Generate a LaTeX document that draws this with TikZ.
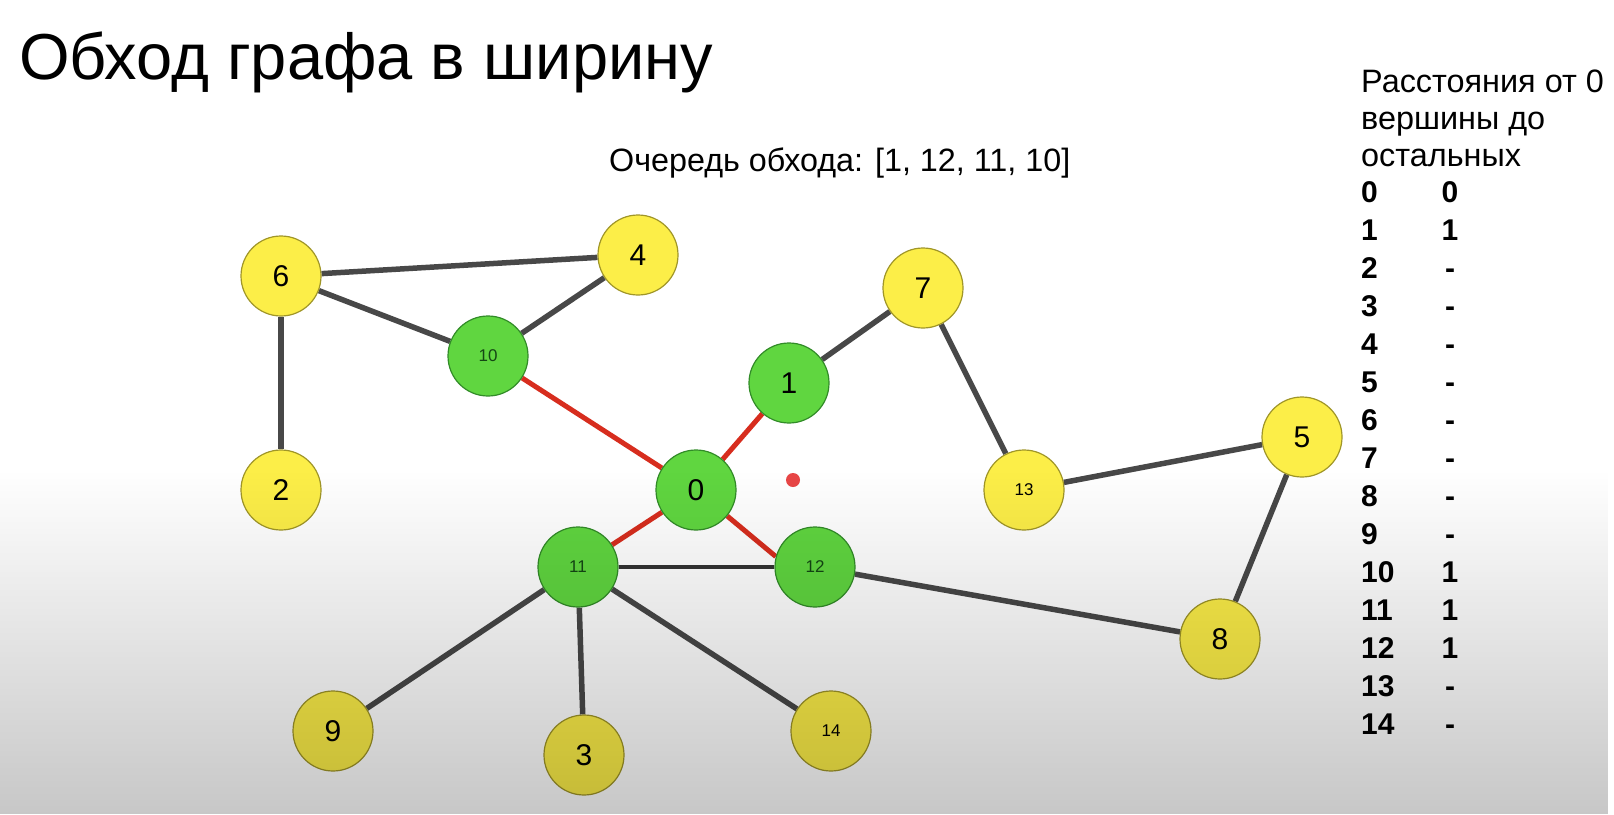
\documentclass[tikz,border=0pt]{standalone}
\usepackage{fontspec}
\setmainfont{Liberation Sans}
\usetikzlibrary{fadings}
\pgfdeclarelayer{back}
\pgfdeclarelayer{edges}
\pgfsetlayers{back,edges,main}
\definecolor{ynode}{RGB}{252,238,72}
\definecolor{yline}{RGB}{160,150,40}
\definecolor{gnode}{RGB}{96,214,64}
\definecolor{gline}{RGB}{50,140,40}
\definecolor{gtext}{RGB}{20,70,20}
\definecolor{edgegray}{RGB}{72,72,72}
\definecolor{edgered}{RGB}{215,45,30}
\definecolor{dotred}{RGB}{232,70,70}
\begin{document}
\begin{tikzpicture}[x=1pt,y=-1pt,
  vtx/.style={circle, minimum size=80pt, inner sep=0pt, line width=1.2pt},
  ynd/.style={vtx, fill=ynode, draw=yline},
  gnd/.style={vtx, fill=gnode, draw=gline},
  big/.style={font=\fontsize{30}{30}\selectfont},
  small/.style={font=\fontsize{17}{17}\selectfont},
  gedge/.style={draw=edgegray, line width=5.5pt},
  redge/.style={draw=edgered, line width=5pt},
  tbl/.style={font=\fontsize{30}{30}\selectfont\bfseries, inner sep=0pt},
  hdr/.style={font=\fontsize{32.4}{32.4}\selectfont, inner sep=0pt, anchor=base west}]
\begin{pgfonlayer}{back}
\fill[white] (0,0) rectangle (1614,814);
\end{pgfonlayer}
\useasboundingbox (0,0) rectangle (1614,814);

\node[anchor=base west, inner sep=0pt, font=\fontsize{65}{65}\selectfont] (title) at (19,79) {Обход графа в ширину};
\node[anchor=base west, inner sep=0pt, font=\fontsize{32.3}{32.3}\selectfont] (queue) at (609,171) {Очередь обхода: [1, 12, 11, 10]};

\node[hdr] (h1) at (1361,92) {Расстояния от 0};
\node[hdr] (h2) at (1361,129) {вершины до};
\node[hdr] (h3) at (1361,166) {остальных};
\foreach \i/\v [count=\k from 0] in {0/0,1/1,2/-,3/-,4/-,5/-,6/-,7/-,8/-,9/-,10/1,11/1,12/1,13/-,14/-}{
  \node[tbl, anchor=base west] (ra\i) at (1361,{202+38*\k}) {\i};
  \node[tbl, anchor=base] (rb\i) at (1450,{202+38*\k}) {\v};
}

% nodes
\node[ynd, big] (n6) at (281,276) {6};
\node[ynd, big] (n4) at (638,255) {4};
\node[gnd, small, text=gtext] (n10) at (488,356) {10};
\node[ynd, big] (n2) at (281,490) {2};
\node[gnd, big] (n1) at (789,383) {1};
\node[ynd, big] (n7) at (923,288) {7};
\node[gnd, big] (n0) at (696,490) {0};
\node[ynd, small] (n13) at (1024,490) {13};
\node[ynd, big] (n5) at (1302,437) {5};
\node[gnd, small, text=gtext] (n11) at (578,567) {11};
\node[gnd, small, text=gtext] (n12) at (815,567) {12};
\node[ynd, big] (n8) at (1220,639) {8};
\node[ynd, big] (n9) at (333,731) {9};
\node[ynd, big] (n3) at (584,755) {3};
\node[ynd, small] (n14) at (831,731) {14};

\begin{pgfonlayer}{edges}
\path[gedge] (n6) -- (n4);
\path[gedge] (n6) -- (n10);
\path[gedge] (n6) -- (n2);
\path[gedge] (n10) -- (n4);
\path[gedge] (n1) -- (n7);
\path[gedge] (n7) -- (n13);
\path[gedge] (n13) -- (n5);
\path[gedge] (n5) -- (n8);
\path[gedge] (n12) -- (n8);
\path[gedge] (n11) -- (n9);
\path[gedge] (n11) -- (n3);
\path[gedge] (n11) -- (n14);
\path[draw=black!80, line width=4pt] (n11) -- (n12);
\path[redge] (n10) -- (n0);
\path[redge] (n1) -- (n0);
\path[redge] (n11) -- (n0);
\path[redge] (n0) -- (n12.165);
\end{pgfonlayer}

\node[circle, fill=dotred, minimum size=14pt, inner sep=0pt] (dot) at (793,480) {};

% shading overlay
\fill[black, fill opacity=0.22, path fading=north] (0,470) rectangle (1614,814);
\end{tikzpicture}
\end{document}
